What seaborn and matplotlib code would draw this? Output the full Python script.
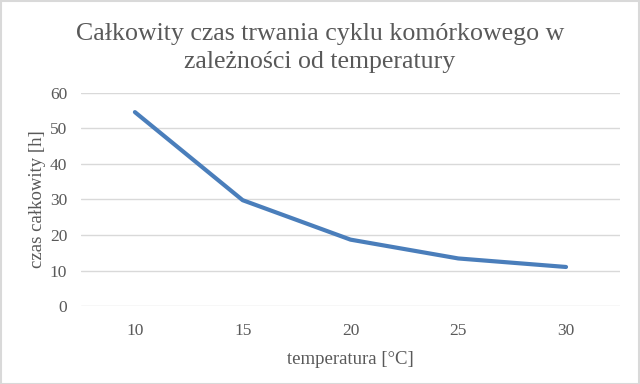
import matplotlib
matplotlib.use("Agg")
import matplotlib.pyplot as plt
import seaborn as sns
import pandas as pd
from matplotlib.patches import Rectangle

temperatures = ["10", "15", "20", "25", "30"]
total_time = [54.6, 29.8, 18.7, 13.4, 11.0]
y_ticks = [0, 10, 20, 30, 40, 50, 60]

title = "Całkowity czas trwania cyklu komórkowego w\nzależności od temperatury"
x_label = "temperatura [°C]"
y_label = "czas całkowity [h]"

sns.set_theme(style="white")
plt.rcParams["font.family"] = ["Liberation Serif", "DejaVu Serif"]

df = pd.DataFrame({"temperatura": temperatures, "czas": total_time})

fig = plt.figure(figsize=(6.4, 3.84), dpi=100)
ax = fig.add_axes([0.1266, 0.203, 0.842, 0.555])

sns.lineplot(data=df, x="temperatura", y="czas", ax=ax, color="#4a7ebb",
             linewidth=3.0, solid_capstyle="round", solid_joinstyle="round", sort=False)

ax.set_xlim(-0.5, len(temperatures) - 0.5)
ax.set_ylim(0, 60)
ax.set_yticks(y_ticks)
ax.grid(axis="y", color="#d9d9d9", linewidth=1.0)
ax.set_axisbelow(True)
for s in ax.spines.values():
    s.set_visible(False)
ax.tick_params(axis="both", length=0, colors="#595959", labelsize=12.5)
ax.tick_params(axis="x", pad=12)
ax.tick_params(axis="y", pad=10)

ax.set_xlabel(x_label, color="#595959", fontsize=13.5, labelpad=9)
ax.set_ylabel(y_label, color="#595959", fontsize=13.5, labelpad=3)

fig.text(0.5, 0.875, title, ha="center", va="center", fontsize=18.6,
         color="#595959", linespacing=1.3)

fig.patches.append(Rectangle((0.001, 0.001), 0.997, 0.997, transform=fig.transFigure,
                             fill=False, edgecolor="#d9d9d9", linewidth=1.5))

fig.savefig("out.png", dpi=100, facecolor="white")
